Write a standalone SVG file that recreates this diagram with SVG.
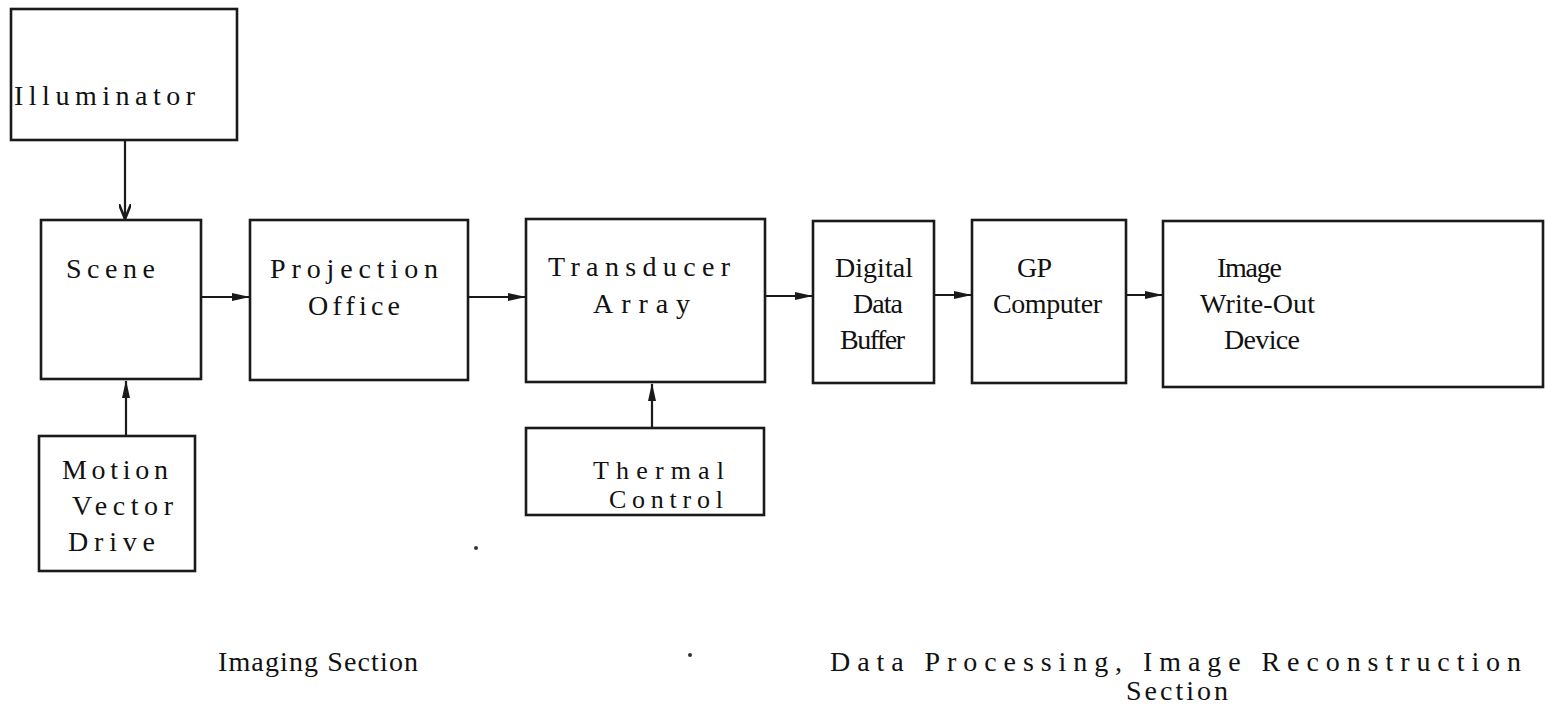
<svg xmlns="http://www.w3.org/2000/svg" width="1546" height="714" viewBox="0 0 1546 714">
  <style>
    .box { fill: #fff; stroke: #1a1a1a; stroke-width: 2.6; }
    .wire { fill: none; stroke: #1a1a1a; stroke-width: 2.2; }
    text { font-family: 'Liberation Serif', 'Times New Roman', serif; fill: #111; }
    .lbl { font-size: 28px; }
    .sm { font-size: 26px; }
    .cap { font-size: 28px; }
  </style>
  <defs>
    <marker id="head" viewBox="0 0 18 10" refX="17" refY="5" markerWidth="18" markerHeight="10" markerUnits="userSpaceOnUse" orient="auto">
      <path d="M0,1 L18,5 L0,9 Z" fill="#1a1a1a"/>
    </marker>
    <marker id="vee" viewBox="0 0 16 12" refX="15" refY="6" markerWidth="16" markerHeight="12" markerUnits="userSpaceOnUse" orient="auto">
      <path d="M0,0 L15,6 L0,12" fill="none" stroke="#1a1a1a" stroke-width="2.6"/>
    </marker>
  </defs>
  <rect width="1546" height="714" fill="#fff"/>

  <!-- connectors -->
  <g id="connectors">
    <line class="wire" x1="125" y1="140" x2="125" y2="219" marker-end="url(#vee)"/>
    <line class="wire" x1="126" y1="436" x2="126" y2="381" marker-end="url(#head)"/>
    <line class="wire" x1="201" y1="297" x2="249" y2="297" marker-end="url(#head)"/>
    <line class="wire" x1="468" y1="297" x2="525" y2="297" marker-end="url(#head)"/>
    <line class="wire" x1="765" y1="296" x2="812" y2="296" marker-end="url(#head)"/>
    <line class="wire" x1="934" y1="295" x2="971" y2="295" marker-end="url(#head)"/>
    <line class="wire" x1="1126" y1="295" x2="1162" y2="295" marker-end="url(#head)"/>
    <line class="wire" x1="652" y1="428" x2="652" y2="384" marker-end="url(#head)"/>
  </g>

  <g id="illuminator">
    <rect class="box" x="11" y="9" width="226" height="131"/>
    <text class="lbl" x="14" y="105" textLength="181" lengthAdjust="spacing">Illuminator</text>
  </g>

  <g id="scene">
    <rect class="box" x="41" y="220" width="160" height="159"/>
    <text class="lbl" x="66" y="278" textLength="89" lengthAdjust="spacing">Scene</text>
  </g>

  <g id="motion-vector-drive">
    <rect class="box" x="39" y="436" width="156" height="135"/>
    <text class="lbl" x="62" y="479" textLength="106" lengthAdjust="spacing">Motion</text>
    <text class="lbl" x="72" y="515" textLength="101" lengthAdjust="spacing">Vector</text>
    <text class="lbl" x="68" y="551" textLength="87" lengthAdjust="spacing">Drive</text>
  </g>

  <g id="projection-office">
    <rect class="box" x="250" y="220" width="218" height="160"/>
    <text class="lbl" x="270" y="278" textLength="168" lengthAdjust="spacing">Projection</text>
    <text class="lbl" x="308" y="315" textLength="92" lengthAdjust="spacing">Office</text>
  </g>

  <g id="transducer-array">
    <rect class="box" x="526" y="219" width="239" height="163"/>
    <text class="lbl" x="548" y="276" textLength="182" lengthAdjust="spacing">Transducer</text>
    <text class="lbl" x="593" y="313" textLength="97" lengthAdjust="spacing">Array</text>
  </g>

  <g id="thermal-control">
    <rect class="box" x="526" y="428" width="238" height="87"/>
    <text class="sm" x="593" y="479" textLength="131" lengthAdjust="spacing">Thermal</text>
    <text class="sm" x="609" y="508" textLength="114" lengthAdjust="spacing">Control</text>
  </g>

  <g id="digital-data-buffer">
    <rect class="box" x="813" y="221" width="121" height="162"/>
    <text class="lbl" x="835" y="277" textLength="78" lengthAdjust="spacing">Digital</text>
    <text class="lbl" x="853" y="313" textLength="50" lengthAdjust="spacing">Data</text>
    <text class="lbl" x="840" y="349" textLength="65" lengthAdjust="spacing">Buffer</text>
  </g>

  <g id="gp-computer">
    <rect class="box" x="972" y="220" width="154" height="163"/>
    <text class="lbl" x="1017" y="277" textLength="35" lengthAdjust="spacing">GP</text>
    <text class="lbl" x="993" y="313" textLength="109" lengthAdjust="spacing">Computer</text>
  </g>

  <g id="image-write-out-device">
    <rect class="box" x="1163" y="221" width="380" height="166"/>
    <text class="lbl" x="1217" y="277" textLength="65" lengthAdjust="spacing">Image</text>
    <text class="lbl" x="1200" y="313" textLength="115" lengthAdjust="spacing">Write-Out</text>
    <text class="lbl" x="1224" y="349" textLength="76" lengthAdjust="spacing">Device</text>
  </g>

  <!-- section captions -->
  <g id="imaging-section">
    <text class="cap" x="218" y="671" textLength="200" lengthAdjust="spacing">Imaging Section</text>
  </g>
  <g id="processing-section">
    <text class="cap" x="830" y="671" textLength="691" lengthAdjust="spacing">Data Processing, Image Reconstruction</text>
    <text class="cap" x="1126" y="700" textLength="102" lengthAdjust="spacing">Section</text>
  </g>

  <!-- specks -->
  <circle cx="476" cy="548" r="2" fill="#333"/>
  <circle cx="690" cy="655" r="2" fill="#333"/>
</svg>
